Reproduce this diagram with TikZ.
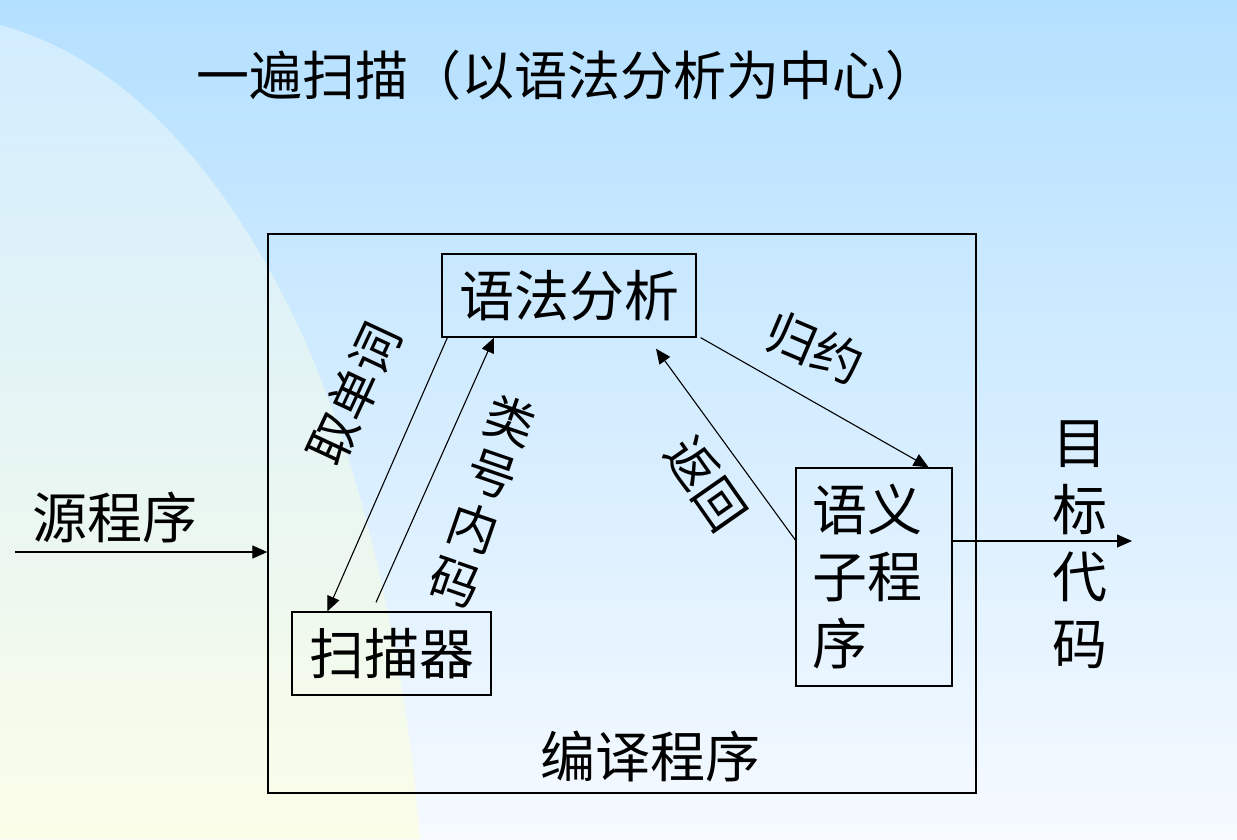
\documentclass[tikz,border=0pt]{standalone}
\usepackage{fontspec}
\newfontfamily\cjk{Noto Sans CJK SC}
\usetikzlibrary{arrows.meta}
\definecolor{skytop}{RGB}{180,224,255}
\definecolor{skybot}{RGB}{246,250,255}
\definecolor{glowtop}{RGB}{210,237,255}
\definecolor{glowbot}{RGB}{251,253,232}

\tikzset{
  box/.style={draw,line width=1.3pt,inner sep=0pt},
  big/.style={font=\cjk\fontsize{55}{67}\selectfont},
  heading/.style={font=\cjk\fontsize{53}{60}\selectfont},
  tag/.style={font=\cjk\fontsize{50}{57}\selectfont,align=center},
  flow/.style={line width=1.1pt,->},
}

\begin{document}
\begin{tikzpicture}[x=1pt,y=-1pt,>={Triangle[length=15pt,width=13pt]}]
  \useasboundingbox (0,0) rectangle (1237,839);
  % background
  \shade[top color=skytop,bottom color=skybot] (0,0) rectangle (1237,839);
  \shade[top color=glowtop,bottom color=glowbot]
    (0,25) .. controls (130,60) and (230,180) .. (300,330)
    .. controls (360,460) and (405,650) .. (420,839) -- (0,839) -- cycle;

  \node[heading] (title) at (567,75) {一遍扫描（以语法分析为中心）};

  % compiler and its parts
  \node[box,minimum width=708pt,minimum height=559pt] (prog) at (622,513.5) {};
  \node[box,big,minimum width=254pt,minimum height=83pt] (parse) at (569,295.5) {语法分析};
  \node[box,big,minimum width=199pt,minimum height=83pt] (scan) at (391.5,653.5) {扫描器};
  \node[box,big,align=left,text width=124pt,minimum width=156pt,minimum height=218pt]
    (sem) at (874,577) {语义\\子程\\序};
  \node[big] (compiler) at (650,757) {编译程序};

  \node[big] (source) at (115,518) {源程序};
  \node[big,align=center] (target) at (1080,545) {目\\标\\代\\码};
  \coordinate (in) at (15,552);
  \coordinate (out) at (1132,541);

  \draw[flow] (in) -- (in -| prog.west);
  \draw[flow] (sem.east |- out) -- (out);
  \draw[flow] ([xshift=6pt]parse.south west) -- ([xshift=36pt]scan.north west);
  \draw[flow] ([xshift=-15.5pt,yshift=9pt]scan.north) -- ([xshift=-75pt]parse.south);
  \draw[flow] ([xshift=4pt]parse.south east) -- ([xshift=-24pt]sem.north east);
  \draw[flow] ([yshift=37pt]sem.west) -- ([xshift=87pt,yshift=-11pt]parse.south);

  \node[tag,rotate=65] (fetch) at (354,394) {取单词};
  \node[tag,rotate=-19] (code) at (483,501) {类\\号\\内\\码};
  \node[tag,rotate=-55] (back) at (706,484) {返回};
  \node[tag,rotate=-23] (reduce) at (815,348) {归约};
\end{tikzpicture}
\end{document}
